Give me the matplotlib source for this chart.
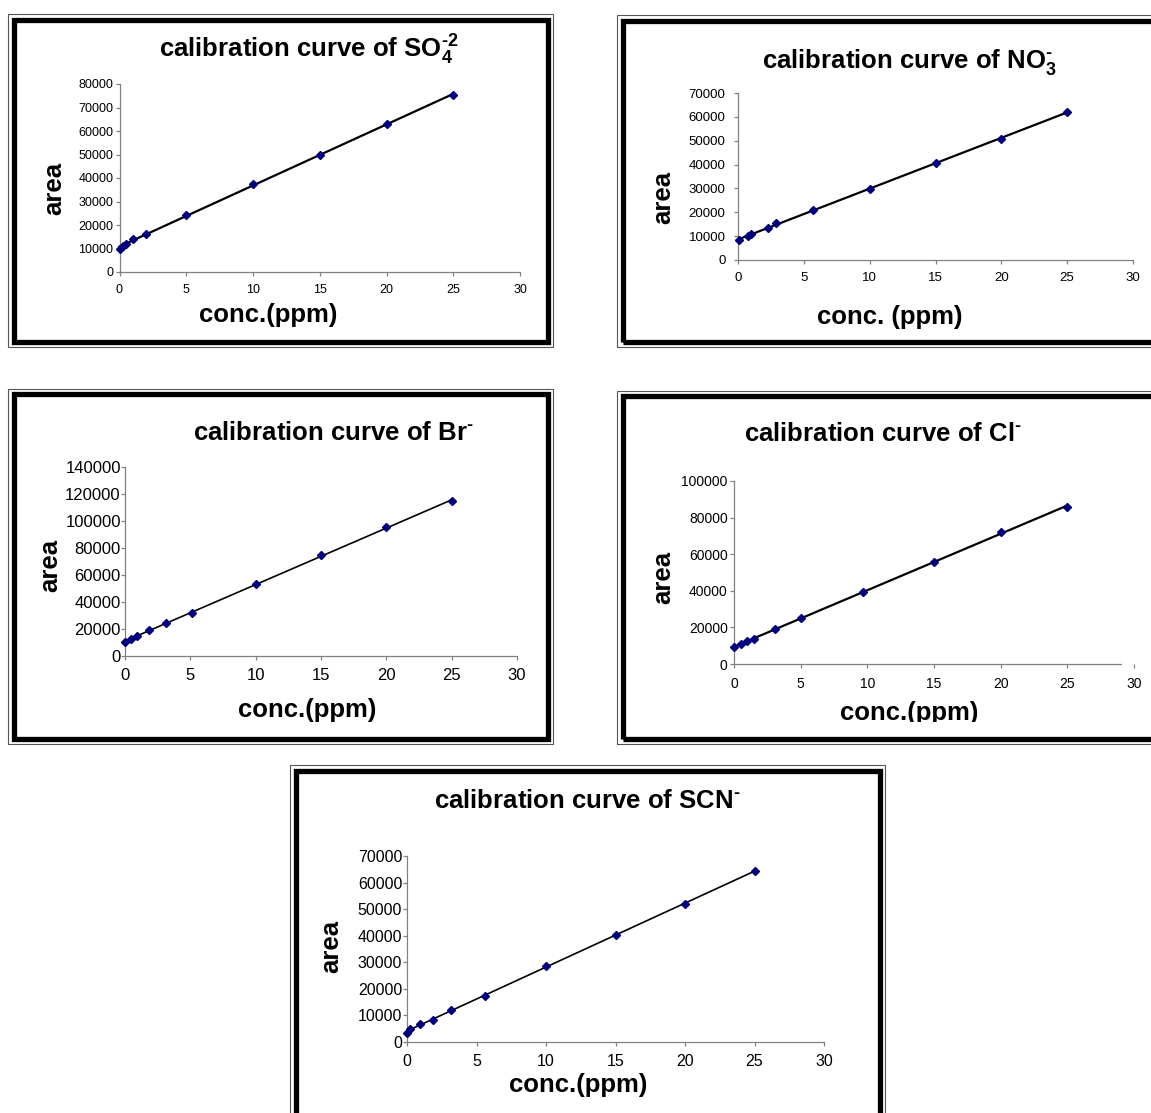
import matplotlib
matplotlib.use("Agg")
import matplotlib.pyplot as plt
import numpy as np
from matplotlib.patches import Rectangle
from matplotlib.transforms import Bbox, TransformedBbox

W, H = 1151, 1113
DPI = 100

plt.rcParams["font.family"] = ["Liberation Sans", "DejaVu Sans"]
plt.rcParams["mathtext.fontset"] = "custom"
plt.rcParams["mathtext.rm"] = "Liberation Sans:bold"
plt.rcParams["mathtext.it"] = "Liberation Sans:bold"
plt.rcParams["mathtext.bf"] = "Liberation Sans:bold"

# ---- data ----
so4_conc = [0, 0.25, 0.5, 1, 2, 5, 10, 15, 20, 25]
so4_area = [10000, 11000, 12000, 14000, 16300, 24100, 37600, 49800, 62800, 75400]

no3_conc = [0.1, 0.75, 1, 2.3, 2.9, 5.7, 10, 15, 20, 25]
no3_area = [8400, 10000, 10800, 13600, 15300, 21000, 29700, 40700, 50900, 62000]

br_conc = [0, 0.45, 0.95, 1.8, 3.1, 5.1, 10, 15, 20, 25]
br_area = [10400, 12800, 14600, 19000, 24500, 32000, 53300, 74800, 95300, 114500]

cl_conc = [0, 0.5, 1, 1.5, 3.1, 5, 9.7, 15, 20, 25]
cl_area = [9500, 10800, 12500, 13900, 19000, 25000, 39600, 55600, 71900, 86000]

scn_conc = [0, 0.2, 0.9, 1.85, 3.15, 5.6, 10, 15, 20, 25]
scn_area = [3500, 4800, 6700, 8400, 12000, 17400, 28500, 40400, 52000, 64300]

x_ticks = [0, 5, 10, 15, 20, 25, 30]
so4_yticks = list(range(0, 80001, 10000))
no3_yticks = list(range(0, 70001, 10000))
br_yticks = list(range(0, 140001, 20000))
cl_yticks = list(range(0, 100001, 20000))
scn_yticks = list(range(0, 70001, 10000))

# ---- layout, in reference pixels ----
# frame: (left, top, right, bottom), axes: (left, right, top, bottom)
panels = [
    dict(x=so4_conc, y=so4_area, yticks=so4_yticks,
         title=r"calibration curve of SO$_4^{\text{-2}}$", xlabel="conc.(ppm)",
         frame=(8, 14, 553, 347), axes=(119.5, 520, 84, 272),
         title_xy=(159, 58), ylabel_xy=(54, 188), xlabel_xy=(268, 322),
         tick_size=9, ypad=1.5, xpad=5.5, lw=1.6),
    dict(x=no3_conc, y=no3_area, yticks=no3_yticks,
         title=r"calibration curve of NO$_3^{\text{-}}$", xlabel="conc. (ppm)",
         frame=(617, 15, 1170, 347), axes=(738, 1133, 93, 260),
         title_xy=(762, 68), ylabel_xy=(663, 197), xlabel_xy=(890, 324),
         tick_size=9.5, ypad=6, xpad=5.5, lw=1.6),
    dict(x=br_conc, y=br_area, yticks=br_yticks,
         title=r"calibration curve of Br$^{\text{-}}$", xlabel="conc.(ppm)",
         frame=(8, 389, 553, 744), axes=(125, 517, 467, 656),
         title_xy=(193, 440), ylabel_xy=(50, 565), xlabel_xy=(307, 717),
         tick_size=12, ypad=0, xpad=6, lw=1.2),
    dict(x=cl_conc, y=cl_area, yticks=cl_yticks,
         title=r"calibration curve of Cl$^{\text{-}}$", xlabel="conc.(ppm)",
         frame=(617, 391, 1170, 744), axes=(734, 1134, 481, 664),
         title_xy=(744, 441), ylabel_xy=(663, 577), xlabel_xy=(909, 720),
         tick_size=10, ypad=1.5, xpad=6, lw=1.6, spine_end=29, clip_y=722),
    dict(x=scn_conc, y=scn_area, yticks=scn_yticks,
         title=r"calibration curve of SCN$^{\text{-}}$", xlabel="conc.(ppm)",
         frame=(290, 765, 885, 1140), axes=(407, 824, 856, 1042),
         title_xy=(434, 808), ylabel_xy=(331, 946), xlabel_xy=(578, 1092),
         tick_size=11.5, ypad=0.5, xpad=6, lw=1.2),
]


def fig_rect(left, top, right, bottom):
    return [left / W, 1 - bottom / H, (right - left) / W, (bottom - top) / H]


def draw_frame(fig, left, top, right, bottom):
    fig.add_artist(Rectangle((left / W, 1 - bottom / H), (right - left) / W, (bottom - top) / H,
                             transform=fig.transFigure, fill=False, ec="#555555", lw=0.8))
    inset = 5.5
    fig.add_artist(Rectangle(((left + inset) / W, 1 - (bottom - inset) / H),
                             (right - left - 2 * inset) / W, (bottom - top - 2 * inset) / H,
                             transform=fig.transFigure, fill=False, ec="black", lw=3.8))


def draw_panel(fig, p):
    draw_frame(fig, *p["frame"])
    left, right, top, bottom = p["axes"]
    ax = fig.add_axes(fig_rect(left, top, right, bottom))
    ax.set_facecolor("none")

    conc = np.array(p["x"])
    area = np.array(p["y"])
    slope, icpt = np.polyfit(conc, area, 1)
    xs = np.array([conc.min(), conc.max()])
    ax.plot(xs, slope * xs + icpt, color="black", lw=p["lw"], zorder=2, clip_on=False)
    ax.plot(conc, area, linestyle="none", marker="D", ms=3.8, color="#00007f",
            mec="#00007f", zorder=3, clip_on=False)

    ax.set_xlim(0, 30)
    ax.set_ylim(0, p["yticks"][-1])
    ax.set_xticks(x_ticks)
    ax.set_yticks(p["yticks"])
    for s in ("top", "right"):
        ax.spines[s].set_visible(False)
    for s in ("left", "bottom"):
        ax.spines[s].set_color("#808080")
        ax.spines[s].set_linewidth(0.9)
    if "spine_end" in p:
        ax.spines["bottom"].set_bounds(0, p["spine_end"])
    ax.tick_params(axis="both", direction="out", length=3, width=0.9, color="#808080",
                   labelsize=p["tick_size"], labelcolor="black")
    ax.tick_params(axis="y", pad=p["ypad"])
    ax.tick_params(axis="x", pad=p["xpad"])

    tx, ty = p["title_xy"]
    fig.text(tx / W, 1 - ty / H, p["title"], ha="left", va="baseline",
             fontsize=18.5, fontweight="bold")
    lx, ly = p["ylabel_xy"]
    fig.text(lx / W, 1 - ly / H, "area", ha="center", va="center", rotation=90,
             fontsize=18.5, fontweight="bold")
    cx, cy = p["xlabel_xy"]
    t = fig.text(cx / W, 1 - cy / H, p["xlabel"], ha="center", va="baseline",
                 fontsize=18.5, fontweight="bold")
    if "clip_y" in p:
        box = Bbox([[0, 1 - p["clip_y"] / H], [1, 1]])
        t.set_clip_box(TransformedBbox(box, fig.transFigure))
        t.set_clip_on(True)


def main():
    fig = plt.figure(figsize=(W / DPI, H / DPI), dpi=DPI)
    fig.patch.set_facecolor("white")
    for p in panels:
        draw_panel(fig, p)
    fig.savefig("out.png", dpi=DPI, facecolor="white")
    plt.close(fig)


if __name__ == "__main__":
    main()
